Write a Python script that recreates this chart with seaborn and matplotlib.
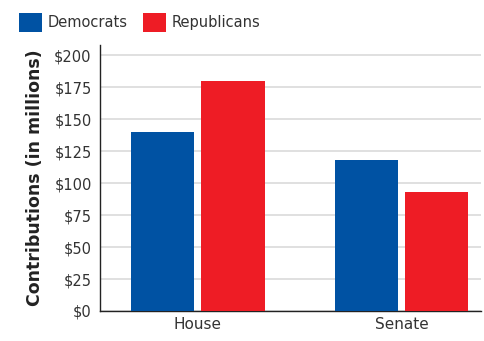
import matplotlib
matplotlib.use("Agg")
import matplotlib.pyplot as plt
import seaborn as sns
import pandas as pd
from matplotlib.patches import Patch

chambers = ["House", "Senate"]
parties = ["Democrats", "Republicans"]
democrats = [140, 118]
republicans = [180, 93]
yticks = [0, 25, 50, 75, 100, 125, 150, 175, 200]
colors = ["#0052a3", "#ee1c25"]

df = pd.DataFrame({
    "Chamber": chambers * 2,
    "Party": [parties[0]] * 2 + [parties[1]] * 2,
    "Value": democrats + republicans,
})

sns.set_style("white")
plt.rcParams["font.family"] = ["DejaVu Sans Condensed", "DejaVu Sans"]

fig = plt.figure(figsize=(4.84, 3.41), dpi=100)
ax = fig.add_axes([0.2066, 0.088, 0.7872, 0.78])
sns.barplot(data=df, x="Chamber", y="Value", hue="Party", palette=colors,
            width=0.69, gap=0.1, ax=ax, legend=False, saturation=1, zorder=3,
            linewidth=0, edgecolor="none")

ax.set_ylim(0, 208)
ax.set_xlim(-0.48, 1.39)
ax.set_yticks(yticks)
ax.set_yticklabels([f"${v}" for v in yticks], fontsize=10.5, color="#333333")
ax.tick_params(axis="x", labelsize=11, colors="#333333", length=0, pad=4)
ax.tick_params(axis="y", length=0, pad=6)
ax.yaxis.grid(True, color="#dadada", lw=1.2, zorder=0)
ax.set_axisbelow(True)
for s in ["top", "right"]:
    ax.spines[s].set_visible(False)
ax.spines["left"].set_color("#222222")
ax.spines["bottom"].set_color("#222222")
ax.spines["left"].set_linewidth(1.0)
ax.spines["bottom"].set_linewidth(1.0)
ax.set_xlabel("")
ax.set_ylabel("Contributions (in millions)", fontsize=12.5, fontweight="bold",
              color="#222222", labelpad=7)

handles = [Patch(facecolor=c, edgecolor="none") for c in colors]
fig.legend(handles, parties, loc="upper left", bbox_to_anchor=(0.012, 1.0),
           ncol=2, frameon=False, fontsize=10.5, handlelength=1.6, handleheight=1.6,
           handletextpad=0.4, columnspacing=1.0, labelcolor="#333333")

fig.savefig("out.png", dpi=100)
